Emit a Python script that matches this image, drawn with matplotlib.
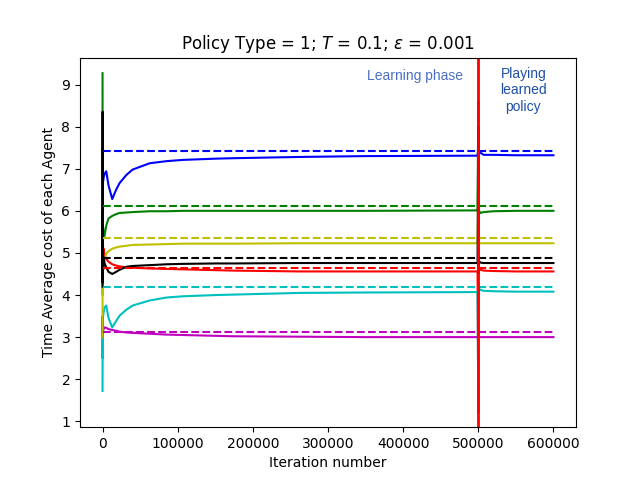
import numpy as np
import matplotlib
matplotlib.use('Agg')
import matplotlib.pyplot as plt

# Iterations at which the time-average cost was sampled
iters = [0, 100, 200, 400, 700, 1500, 2700, 4900, 8000, 12900, 18000, 22700,
         31600, 40000, 62700, 85000, 107000, 151600, 174000, 262700, 350000,
         499000, 500000, 500100, 500300, 501000, 503000, 507000, 520000,
         550000, 600000]

cost_b = [6.4, 7.1, 6.6, 6.9, 6.7, 6.8, 6.88, 6.94, 6.6, 6.28, 6.5, 6.66,
          6.85, 6.98, 7.13, 7.18, 7.21, 7.24, 7.25, 7.28, 7.30,
          7.31, 7.5, 7.2, 7.4, 7.35, 7.38, 7.33, 7.33, 7.32, 7.32]
cost_g = [9.27, 5.5, 7.5, 5.3, 5.6, 5.35, 5.41, 5.65, 5.82, 5.88, 5.92, 5.95,
          5.96, 5.97, 5.99, 5.99, 6.0, 6.0, 6.0, 6.0, 6.0,
          6.01, 8.6, 5.9, 6.2, 6.0, 5.95, 5.97, 5.99, 6.0, 6.0]
cost_r = [5.0, 7.2, 4.5, 5.5, 5.0, 5.1, 4.94, 4.86, 4.79, 4.73, 4.7, 4.68,
          4.66, 4.65, 4.63, 4.62, 4.61, 4.59, 4.58, 4.56, 4.56,
          4.56, 1.2, 8.0, 4.7, 4.62, 4.6, 4.58, 4.57, 4.56, 4.56]
cost_c = [1.72, 3.0, 2.5, 3.3, 3.5, 3.6, 3.7, 3.75, 3.45, 3.23, 3.38, 3.51,
          3.65, 3.75, 3.87, 3.94, 3.97, 4.0, 4.01, 4.05, 4.06,
          4.07, 1.28, 4.3, 4.0, 4.15, 4.12, 4.1, 4.09, 4.08, 4.08]
cost_m = [3.1, 3.5, 3.0, 3.25, 3.15, 3.2, 3.23, 3.22, 3.19, 3.17, 3.15, 3.13,
          3.11, 3.1, 3.08, 3.06, 3.05, 3.03, 3.02, 3.01, 3.0,
          3.0, 3.0, 3.05, 3.0, 3.0, 3.0, 3.0, 3.0, 3.0, 3.0]
cost_y = [3.0, 6.8, 4.0, 5.0, 4.6, 4.75, 4.85, 4.98, 5.04, 5.1, 5.13, 5.15,
          5.17, 5.19, 5.2, 5.21, 5.22, 5.22, 5.22, 5.23, 5.23,
          5.23, 6.5, 4.6, 5.3, 5.23, 5.23, 5.23, 5.23, 5.23, 5.23]
cost_k = [4.2, 8.36, 4.3, 6.0, 4.6, 4.9, 4.75, 4.66, 4.55, 4.5, 4.55, 4.6,
          4.67, 4.69, 4.71, 4.73, 4.74, 4.75, 4.75, 4.76, 4.76,
          4.76, 8.0, 4.5, 4.9, 4.8, 4.77, 4.76, 4.76, 4.76, 4.76]

# Optimal (reference) cost of each agent
colors = ['b', 'g', 'r', 'c', 'm', 'y', 'k']
optimal = [7.43, 6.11, 4.65, 4.2, 3.12, 5.35, 4.87]
costs = [cost_b, cost_g, cost_r, cost_c, cost_m, cost_y, cost_k]

t_switch = 500000
t_end = 600000

fig, ax = plt.subplots(figsize=(6.4, 4.8), dpi=100)
for col, c in zip(colors, costs):
    ax.plot(iters, c, '-', color=col, linewidth=1.5)
for col, opt in zip(colors, optimal):
    ax.plot([0, t_end], [opt, opt], '--', color=col)
ax.axvline(t_switch, color='r', linewidth=2)

ax.text(416000, 9.21, 'Learning phase', color='#4a6fc4', ha='center',
        va='center', fontsize=10, family='Liberation Sans')
ax.text(560000, 8.86, 'Playing\nlearned\npolicy', color='#1f4ea8',
        ha='center', va='center', fontsize=10, family='Liberation Sans')

ax.set_title(r'Policy Type = 1; $T$ = 0.1; $\epsilon$ = 0.001')
ax.set_xlabel('Iteration number')
ax.set_ylabel('Time Average cost of each Agent')
ax.set_ylim(0.86, 9.64)
fig.savefig('out.png')
